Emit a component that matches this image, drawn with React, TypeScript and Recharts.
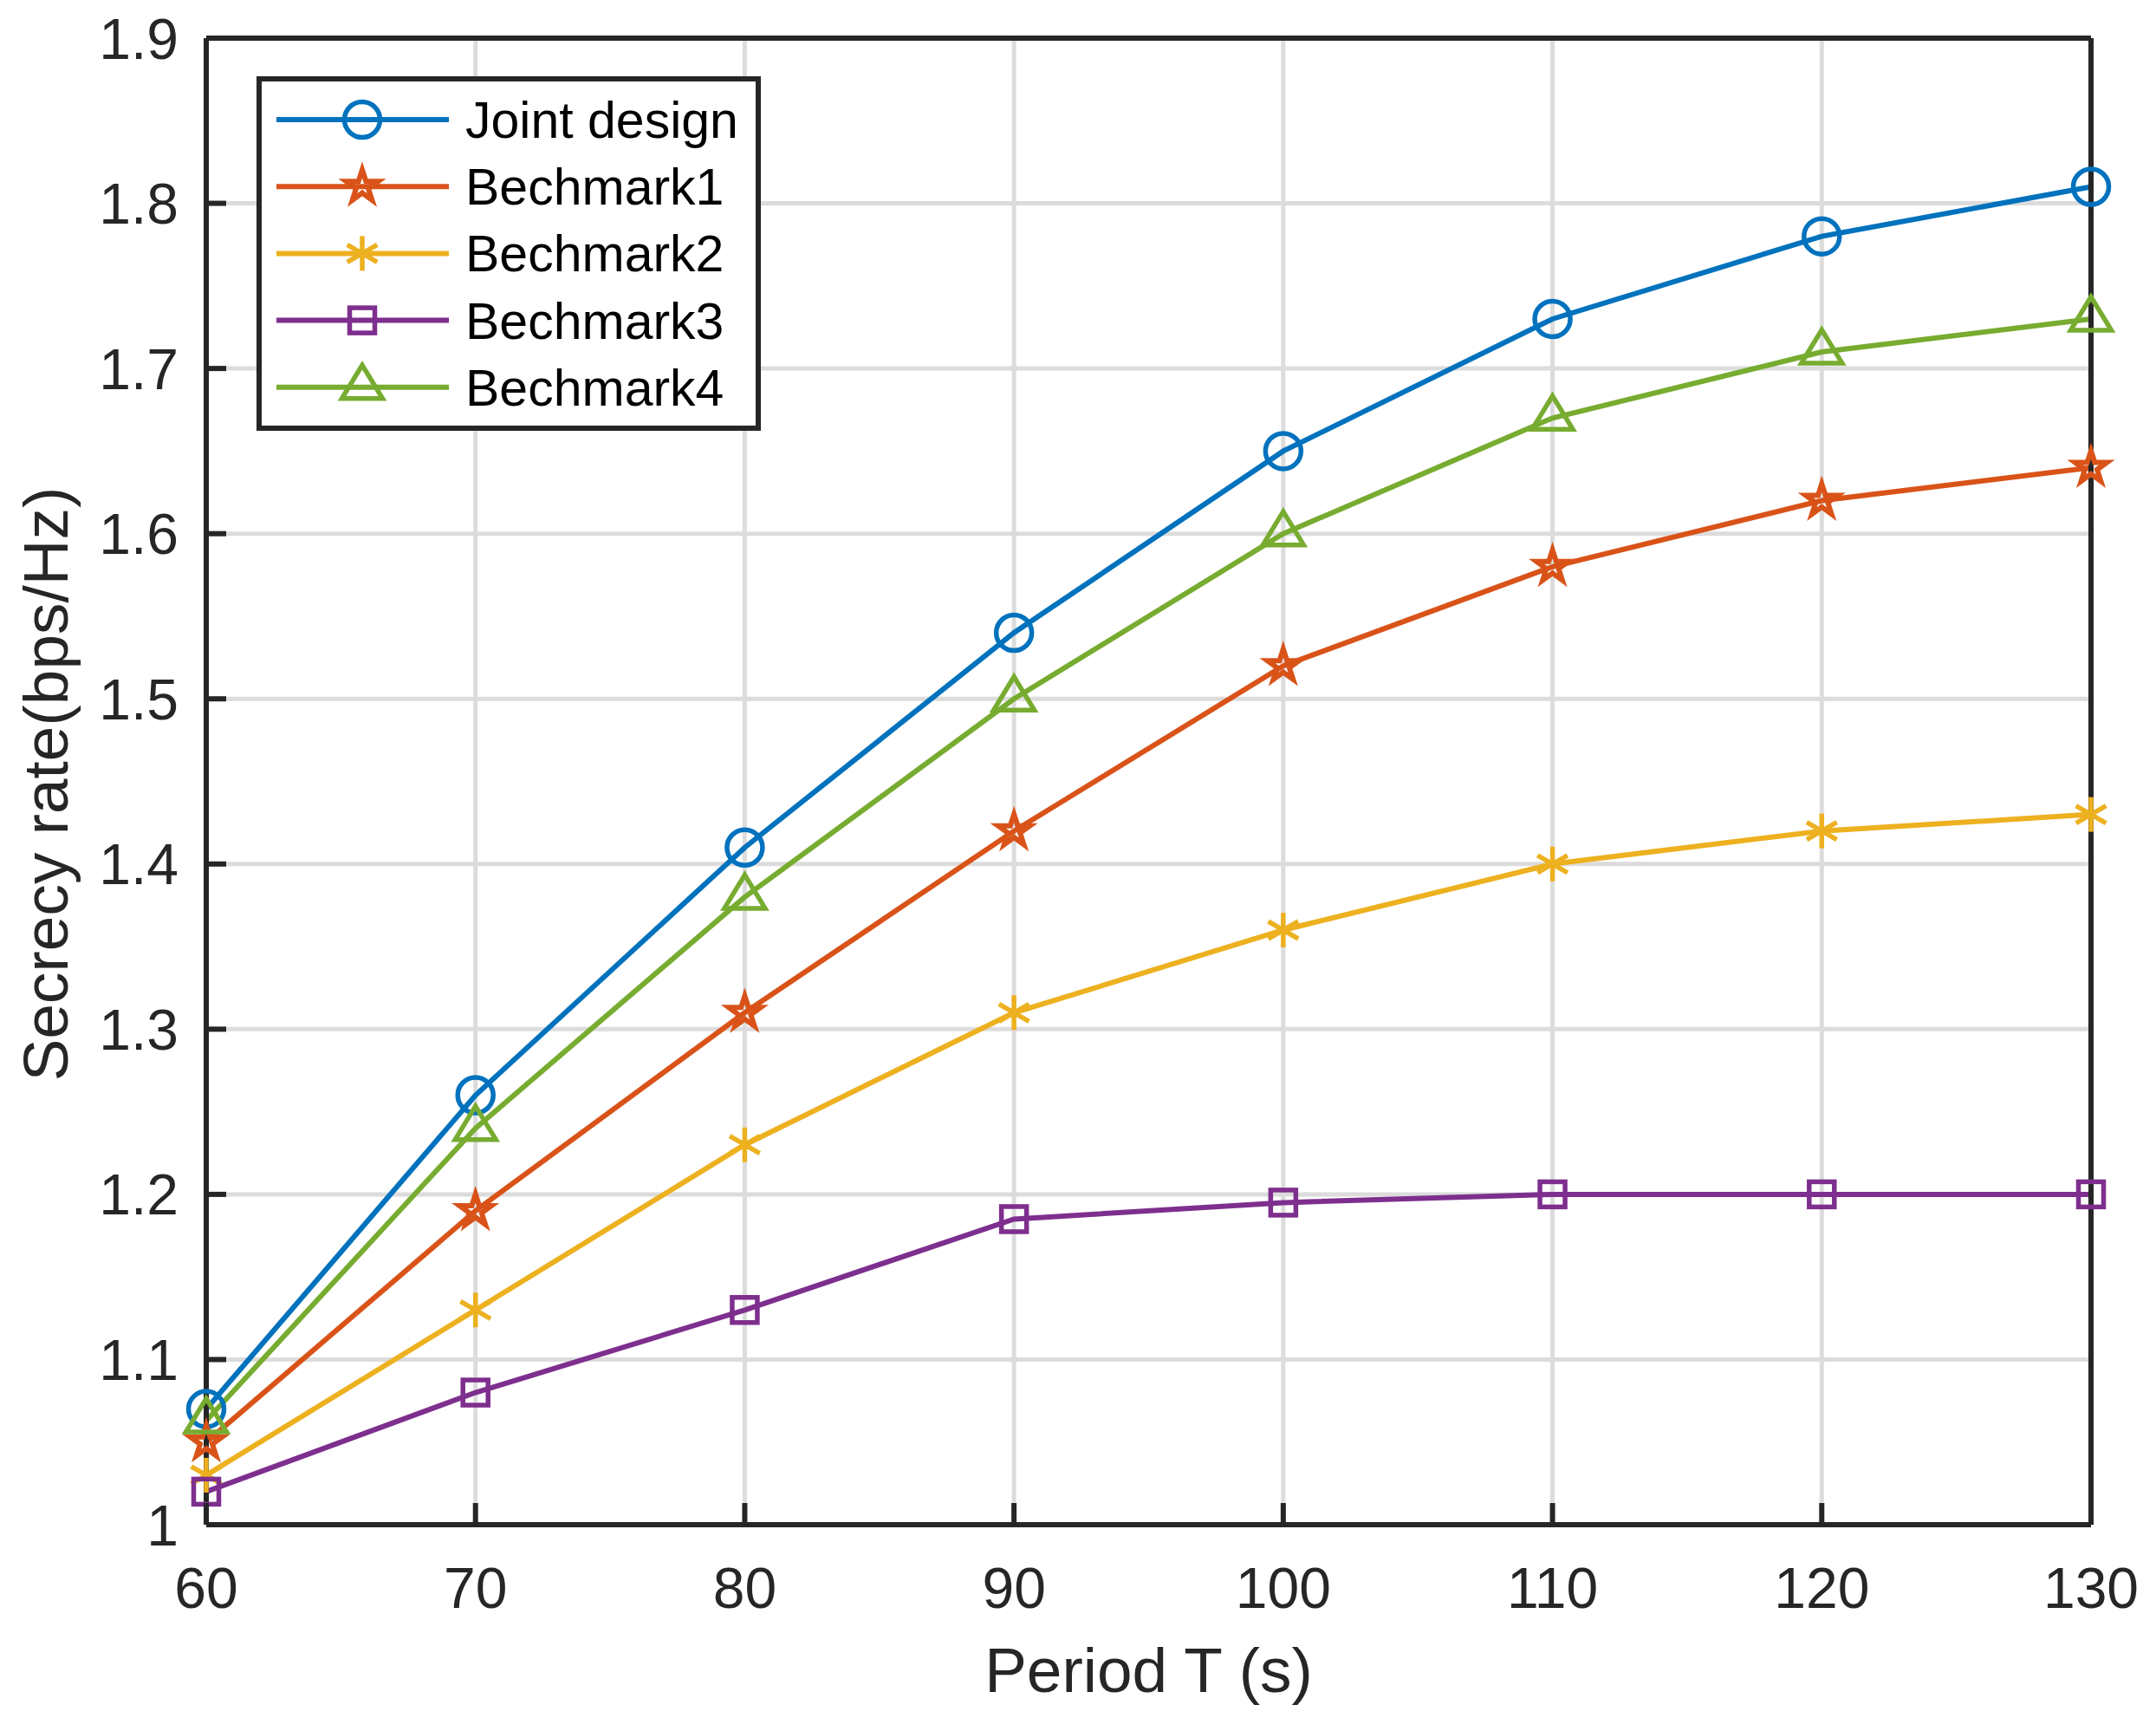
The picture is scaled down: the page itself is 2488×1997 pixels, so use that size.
import React from 'react';
import { LineChart, Line, XAxis, YAxis, CartesianGrid, Legend } from 'recharts';

const periods = [60, 70, 80, 90, 100, 110, 120, 130];
const jointDesign = [1.07, 1.26, 1.41, 1.54, 1.65, 1.73, 1.78, 1.81];
const bechmark1 = [1.05, 1.19, 1.31, 1.42, 1.52, 1.58, 1.62, 1.64];
const bechmark2 = [1.03, 1.13, 1.23, 1.31, 1.36, 1.4, 1.42, 1.43];
const bechmark3 = [1.02, 1.08, 1.13, 1.185, 1.195, 1.2, 1.2, 1.2];
const bechmark4 = [1.063, 1.24, 1.38, 1.5, 1.6, 1.67, 1.71, 1.73];

const xTicks = [60, 70, 80, 90, 100, 110, 120, 130];
const yTicks = [1, 1.1, 1.2, 1.3, 1.4, 1.5, 1.6, 1.7, 1.8, 1.9];

const seriesNames = ['Joint design', 'Bechmark1', 'Bechmark2', 'Bechmark3', 'Bechmark4'];
const seriesKeys = ['joint', 'b1', 'b2', 'b3', 'b4'];
const seriesColors = ['#0072BD', '#D95319', '#EDB120', '#7E2F8E', '#77AC30'];
const seriesMarkers = ['circle', 'star', 'asterisk', 'square', 'triangle'];

const data = periods.map((T, i) => ({
  T,
  joint: jointDesign[i],
  b1: bechmark1[i],
  b2: bechmark2[i],
  b3: bechmark3[i],
  b4: bechmark4[i],
}));

const FONT = '"Liberation Sans", Arial, Helvetica, sans-serif';
const AXIS_COLOR = '#262626';
const LW = 6;
const MW = 5.5;
const TICK_LEN_X = 25;
const TICK_LEN_Y = 23;
const TICK_W = 6;

function starPath(cx: number, cy: number, R: number) {
  const r = R * 0.382;
  const pts: string[] = [];
  for (let k = 0; k < 10; k++) {
    const ang = -Math.PI / 2 + (k * Math.PI) / 5;
    const rad = k % 2 === 0 ? R : r;
    pts.push(`${cx + rad * Math.cos(ang)},${cy + rad * Math.sin(ang)}`);
  }
  return 'M' + pts.join('L') + 'Z';
}

function MarkerShape({ kind, cx, cy, color }: { kind: string; cx: number; cy: number; color: string }) {
  if (cx == null || cy == null || isNaN(cx) || isNaN(cy)) return <g />;
  switch (kind) {
    case 'circle':
      return <circle cx={cx} cy={cy} r={20.5} fill="none" stroke={color} strokeWidth={MW} />;
    case 'square':
      return <rect x={cx - 14.5} y={cy - 14.5} width={29} height={29} fill="none" stroke={color} strokeWidth={MW} />;
    case 'triangle':
      return (
        <polygon
          points={`${cx},${cy - 25.5} ${cx - 23.5},${cy + 13} ${cx + 23.5},${cy + 13}`}
          fill="none"
          stroke={color}
          strokeWidth={MW}
          strokeLinejoin="miter"
          strokeMiterlimit={10}
        />
      );
    case 'star':
      return (
        <path
          d={starPath(cx, cy, 19.3)}
          fill="none"
          stroke={color}
          strokeWidth={6}
          strokeLinejoin="miter"
          strokeMiterlimit={10}
        />
      );
    case 'asterisk':
      return (
        <g stroke={color} strokeWidth={MW} strokeLinecap="butt">
          <line x1={cx} y1={cy - 20} x2={cx} y2={cy + 20} />
          <line x1={cx - 17.3} y1={cy - 10} x2={cx + 17.3} y2={cy + 10} />
          <line x1={cx - 17.3} y1={cy + 10} x2={cx + 17.3} y2={cy - 10} />
        </g>
      );
    default:
      return <g />;
  }
}

const BottomTick = (props: any) => {
  const { x, y, payload } = props;
  return (
    <g>
      <line x1={x} y1={y} x2={x} y2={y - TICK_LEN_X} stroke={AXIS_COLOR} strokeWidth={TICK_W} />
      <text x={x} y={y + 96} textAnchor="middle" fontSize={66} fontFamily={FONT} fill={AXIS_COLOR}>
        {payload.value}
      </text>
    </g>
  );
};

const TopTick = (props: any) => {
  const { x, y } = props;
  return <line x1={x} y1={y} x2={x} y2={y + TICK_LEN_X} stroke={AXIS_COLOR} strokeWidth={TICK_W} />;
};

const LeftTick = (props: any) => {
  const { x, y, payload } = props;
  return (
    <g>
      <line x1={x} y1={y} x2={x + TICK_LEN_Y} y2={y} stroke={AXIS_COLOR} strokeWidth={TICK_W} />
      <text x={x - 32} y={y + 23.5} textAnchor="end" fontSize={66} fontFamily={FONT} fill={AXIS_COLOR}>
        {payload.value}
      </text>
    </g>
  );
};

const RightTick = (props: any) => {
  const { x, y } = props;
  return <line x1={x} y1={y} x2={x - TICK_LEN_Y} y2={y} stroke={AXIS_COLOR} strokeWidth={TICK_W} />;
};

const LEG_W = 582;
const LEG_H = 409;

function LegendBox() {
  return (
    <svg width={LEG_W} height={LEG_H} style={{ display: 'block' }}>
      <rect x={3} y={3} width={LEG_W - 6} height={LEG_H - 6} fill="#ffffff" stroke={AXIS_COLOR} strokeWidth={6} />
      {seriesNames.map((name, i) => {
        const cy = 50 + i * 77.2;
        return (
          <g key={name}>
            <line x1={23} y1={cy} x2={222} y2={cy} stroke={seriesColors[i]} strokeWidth={LW} />
            <MarkerShape kind={seriesMarkers[i]} cx={122} cy={cy} color={seriesColors[i]} />
            <text x={241} y={cy + 21} fontSize={59} fontFamily={FONT} fill="#000000">
              {name}
            </text>
          </g>
        );
      })}
    </svg>
  );
}

const XLabel = (props: any) => {
  const vb = props.viewBox || {};
  return (
    <text x={vb.x + vb.width / 2} y={vb.y + 193} textAnchor="middle" fontSize={73} fontFamily={FONT} fill={AXIS_COLOR}>
      Period T (s)
    </text>
  );
};

const YLabel = (props: any) => {
  const vb = props.viewBox || {};
  const x = vb.x + vb.width - 160;
  const y = vb.y + vb.height / 2 + 3;
  return (
    <text
      x={x}
      y={y}
      transform={`rotate(-90, ${x}, ${y})`}
      textAnchor="middle"
      fontSize={73}
      fontFamily={FONT}
      fill={AXIS_COLOR}
    >
      Secrecy rate(bps/Hz)
    </text>
  );
};

export default function App() {
  return (
    <div style={{ position: 'absolute', left: 0, top: 0, width: 2488, height: 1997, background: '#ffffff' }}>
      <LineChart
        width={2488}
        height={1997}
        data={data}
        margin={{ top: 14, right: 45, bottom: 138, left: 138 }}
        style={{ fontFamily: FONT }}
      >
        <CartesianGrid stroke="#dcdcdc" strokeWidth={5} />
        <XAxis
          dataKey="T"
          type="number"
          domain={[60, 130]}
          ticks={xTicks}
          interval={0}
          height={100}
          stroke={AXIS_COLOR}
          strokeWidth={6}
          tickSize={0}
          tickMargin={0}
          tickLine={false}
          tick={<BottomTick />}
          label={<XLabel />}
        />
        <XAxis
          xAxisId="top"
          orientation="top"
          type="number"
          domain={[60, 130]}
          ticks={xTicks}
          interval={0}
          height={30}
          stroke={AXIS_COLOR}
          strokeWidth={6}
          tickSize={0}
          tickMargin={0}
          tickLine={false}
          tick={<TopTick />}
        />
        <YAxis
          type="number"
          domain={[1, 1.9]}
          ticks={yTicks}
          interval={0}
          width={100}
          stroke={AXIS_COLOR}
          strokeWidth={6}
          tickSize={0}
          tickMargin={0}
          tickLine={false}
          tick={<LeftTick />}
          label={<YLabel />}
        />
        <YAxis
          yAxisId="right"
          orientation="right"
          type="number"
          domain={[1, 1.9]}
          ticks={yTicks}
          interval={0}
          width={30}
          stroke={AXIS_COLOR}
          strokeWidth={6}
          tickSize={0}
          tickMargin={0}
          tickLine={false}
          tick={<RightTick />}
        />
        {seriesKeys.map((k, i) => (
          <Line
            key={k}
            type="linear"
            dataKey={k}
            name={seriesNames[i]}
            stroke={seriesColors[i]}
            strokeWidth={LW}
            isAnimationActive={false}
            activeDot={false}
            dot={(p: any) => (
              <MarkerShape key={`${k}-${p.index}`} kind={seriesMarkers[i]} cx={p.cx} cy={p.cy} color={seriesColors[i]} />
            )}
          />
        ))}
        <Legend
          layout="vertical"
          align="center"
          verticalAlign="middle"
          content={() => <LegendBox />}
          wrapperStyle={{ position: 'absolute', left: 296, top: 88, width: LEG_W, height: LEG_H }}
        />
      </LineChart>
    </div>
  );
}
